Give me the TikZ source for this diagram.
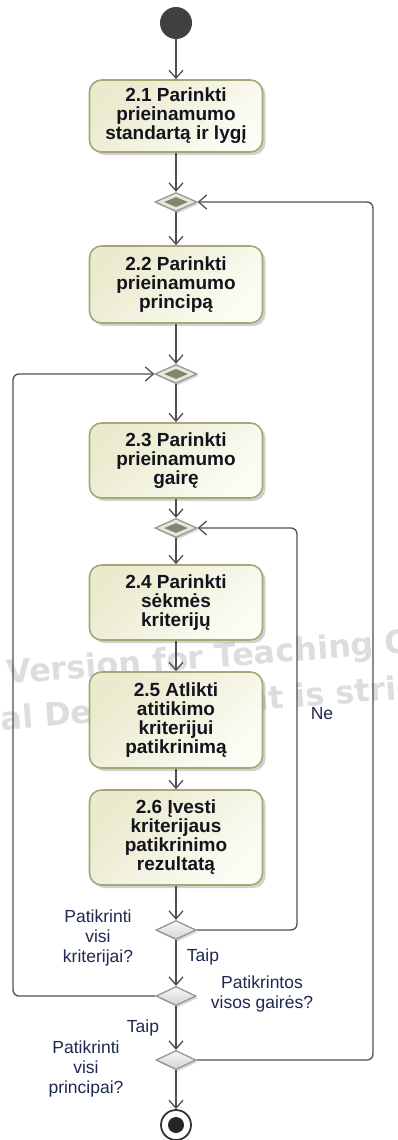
\documentclass[tikz,border=0pt]{standalone}
\usepackage{fontspec}
\setmainfont{Liberation Sans}
\newfontfamily\wmfont{DejaVu Sans}
\usetikzlibrary{shapes.geometric,arrows.meta,shadows,calc}

\definecolor{boxtop}{RGB}{234,234,205}
\definecolor{boxbot}{RGB}{252,252,245}
\definecolor{boxline}{RGB}{168,166,118}
\definecolor{flowgray}{RGB}{80,80,80}
\definecolor{mergefill}{RGB}{230,232,222}
\definecolor{mergecore}{RGB}{128,136,112}
\definecolor{diamline}{RGB}{150,150,145}
\definecolor{dectop}{RGB}{246,246,246}
\definecolor{decbot}{RGB}{212,212,212}
\definecolor{labeltext}{RGB}{30,40,80}
\definecolor{boxtext}{RGB}{20,20,30}
\definecolor{wmgray}{RGB}{221,221,221}
\definecolor{startfill}{RGB}{64,64,64}

\newcommand\wmstyle{\wmfont\bfseries\fontsize{32}{32}\selectfont}
\newlength\wmA
\newlength\wmB

\tikzset{
  action/.style={rectangle, rounded corners=12pt, draw=boxline, line width=1.6pt,
    top color=boxtop, bottom color=boxbot, shading angle=45,
    minimum width=173pt, inner sep=2pt, align=center,
    font=\fontsize{19}{19}\selectfont\bfseries, text=boxtext,
    drop shadow={shadow xshift=3pt, shadow yshift=-3pt, opacity=0.3, fill=black!60}},
  merge/.style={diamond, minimum width=42pt, minimum height=19pt, inner sep=0pt,
    draw=diamline, line width=1.3pt, fill=mergefill,
    drop shadow={shadow xshift=2pt, shadow yshift=-2pt, opacity=0.25, fill=black!60}},
  mergeinner/.style={diamond, minimum width=24pt, minimum height=10pt, inner sep=0pt,
    fill=mergecore},
  decision/.style={diamond, minimum width=40pt, minimum height=19pt, inner sep=0pt,
    draw=diamline, line width=1.3pt, top color=dectop, bottom color=decbot,
    drop shadow={shadow xshift=2pt, shadow yshift=-2pt, opacity=0.25, fill=black!60}},
  initial/.style={circle, fill=startfill, minimum size=32pt, inner sep=0pt},
  final/.style={circle, draw=black!80, line width=1.8pt, fill=white,
    minimum size=30pt, inner sep=0pt},
  finalcore/.style={circle, fill=black!85, minimum size=16pt, inner sep=0pt},
  flowline/.style={draw=flowgray, line width=1.3pt,
    -{Straight Barb[length=8pt,width=14pt]}},
  loopline/.style={flowline, rounded corners=6pt},
  lbl/.style={font=\fontsize{17.5}{20}\selectfont, text=labeltext, align=center, inner sep=0pt},
  wm/.style={font=\wmstyle, text=wmgray, inner sep=0pt, anchor=base west, rotate=4.5}
}

\begin{document}
\settowidth{\wmA}{\wmstyle Academic\ }
\settowidth{\wmB}{\wmstyle Commercial\ }
\begin{tikzpicture}[x=1pt, y=-1pt]
  \useasboundingbox (0,0) rectangle (398,1140);

  % watermark
  \begin{scope}
    \clip (0,0) rectangle (398,1140);
    \node[wm] (wm1) at ($(7,684)+(184.5:\wmA)$) {Academic Version for Teaching Only};
    \node[wm] (wm2) at ($(45,727)+(184.5:\wmB)$) {Commercial Development is strictly prohibited};
  \end{scope}

  % nodes
  \node[initial] (start) at (176,23) {};
  \node[action, minimum height=72pt] (b1) at (176,116) {2.1 Parinkti\\prieinamumo\\standartą ir lygį};
  \node[merge] (m1) at (176,202) {};
  \node[mergeinner] at (m1) {};
  \node[action, minimum height=77pt] (b2) at (176,284.5) {2.2 Parinkti\\prieinamumo\\principą};
  \node[merge] (m2) at (176,374) {};
  \node[mergeinner] at (m2) {};
  \node[action, minimum height=75pt] (b3) at (176,460.5) {2.3 Parinkti\\prieinamumo\\gairę};
  \node[merge] (m3) at (176,528) {};
  \node[mergeinner] at (m3) {};
  \node[action, minimum height=75pt] (b4) at (176,602.5) {2.4 Parinkti\\sėkmės\\kriterijų};
  \node[action, minimum height=96pt] (b5) at (176,720) {2.5 Atlikti\\atitikimo\\kriterijui\\patikrinimą};
  \node[action, minimum height=95pt] (b6) at (176,837.5) {2.6 Įvesti\\kriterijaus\\patikrinimo\\rezultatą};
  \node[decision] (d1) at (176,930) {};
  \node[decision] (d2) at (176,996) {};
  \node[decision] (d3) at (176,1060) {};
  \node[final] (end) at (176,1125) {};
  \node[finalcore] at (end) {};

  % labels
  \node[lbl] (q1) at (98,938) {Patikrinti\\visi\\kriterijai?};
  \node[lbl] (y1) at (203,957) {Taip};
  \node[lbl] (no1) at (322,714) {Ne};
  \node[lbl] (q2) at (262,994) {Patikrintos\\visos gairės?};
  \node[lbl] (y2) at (143,1028) {Taip};
  \node[lbl] (q3) at (86,1069) {Patikrinti\\visi\\principai?};

  % main flow
  \draw[flowline] (start) -- (b1);
  \draw[flowline] (b1) -- (m1);
  \draw[flowline] (m1) -- (b2);
  \draw[flowline] (b2) -- (m2);
  \draw[flowline] (m2) -- (b3);
  \draw[flowline] (b3) -- (m3);
  \draw[flowline] (m3) -- (b4);
  \draw[flowline] (b4) -- (b5);
  \draw[flowline] (b5) -- (b6);
  \draw[flowline] (b6) -- (d1);
  \draw[flowline] (d1) -- (d2);
  \draw[flowline] (d2) -- (d3);
  \draw[flowline] (d3) -- (end);

  % loops back
  \coordinate (innerloop) at (297,528);
  \coordinate (leftloop) at (13,374);
  \coordinate (outerloop) at (373,202);
  \draw[loopline] (d1.east) -| (innerloop) -- (m3.east);
  \draw[loopline] (d2.west) -| (leftloop) -- (m2.west);
  \draw[loopline] (d3.east) -| (outerloop) -- (m1.east);
\end{tikzpicture}
\end{document}
